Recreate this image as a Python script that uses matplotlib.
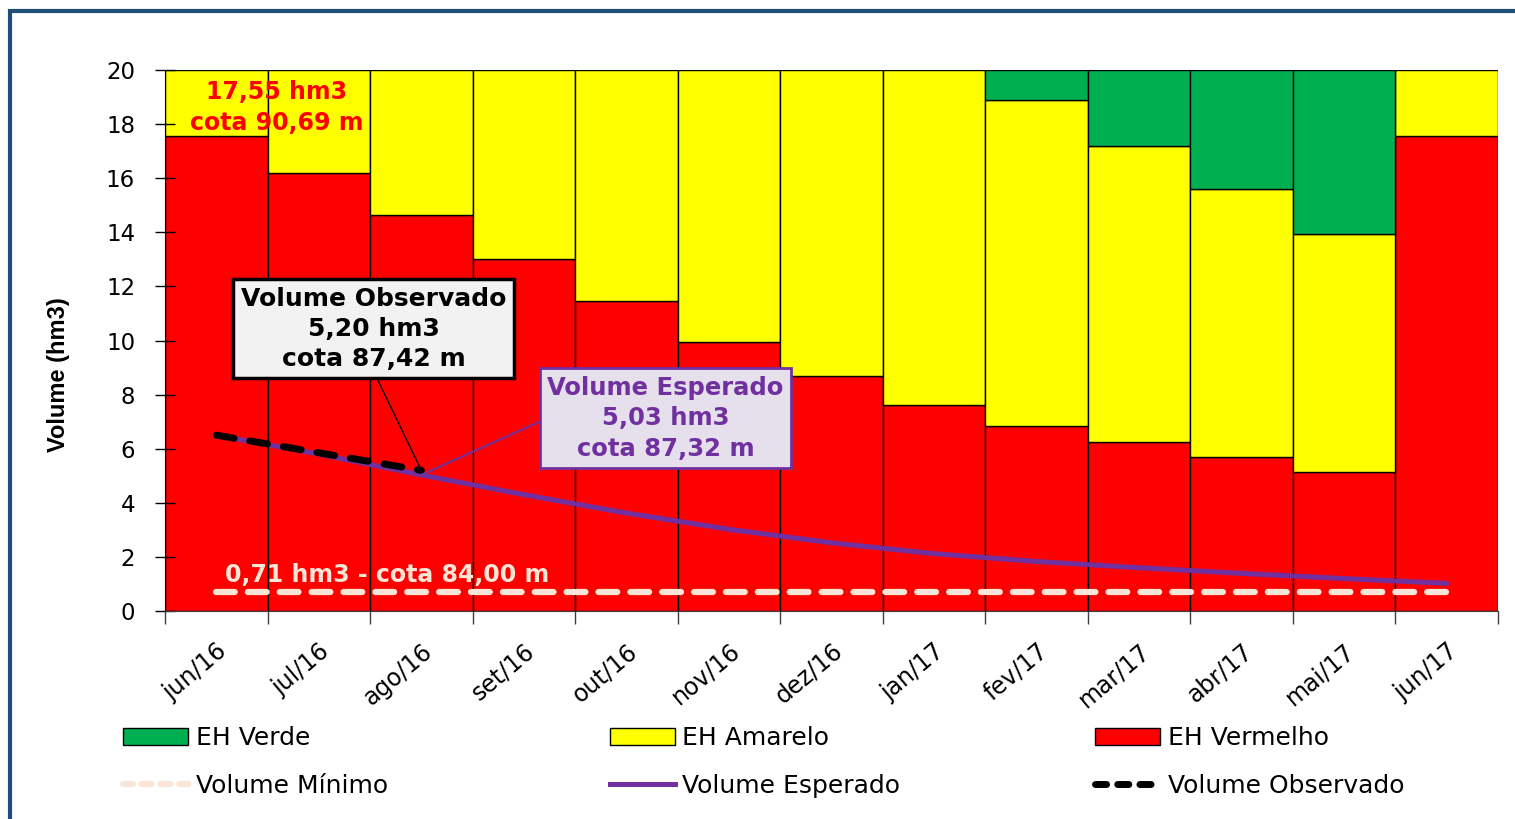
import numpy as np
import matplotlib
matplotlib.use("Agg")
import matplotlib.pyplot as plt
from matplotlib.patches import Patch, Rectangle
from matplotlib.lines import Line2D
from matplotlib.transforms import ScaledTranslation

# dados
meses = ['jun/16', 'jul/16', 'ago/16', 'set/16', 'out/16', 'nov/16', 'dez/16',
         'jan/17', 'fev/17', 'mar/17', 'abr/17', 'mai/17', 'jun/17']
vermelho = [17.55, 16.20, 14.65, 13.00, 11.45, 9.95, 8.70, 7.60, 6.85, 6.25, 5.70, 5.15, 17.55]
amarelo_topo = [20, 20, 20, 20, 20, 20, 20, 20, 18.90, 17.20, 15.60, 13.95, 20]
verde_topo = [20, 20, 20, 20, 20, 20, 20, 20, 20, 20, 20, 20, 20]
esperado = [6.50, 5.80, 5.03, 4.30, 3.62, 3.02, 2.52, 2.12, 1.83, 1.60, 1.39, 1.20, 1.02]
observado = [6.50, 5.85, 5.20]
minimo = [0.71] * 13

C_VERDE = '#00B050'
C_AMARELO = '#FFFF00'
C_VERMELHO = '#FF0000'
C_ROXO = '#7030A0'
C_CREME = '#FBE5D6'

fig = plt.figure(figsize=(15.15, 8.19), dpi=100)
ax = fig.add_axes([165 / 1515, 1 - 611 / 819, 1333 / 1515, 541 / 819])

x = np.arange(len(meses))
verm = np.array(vermelho)
amar = np.array(amarelo_topo) - verm
verd = np.array(verde_topo) - np.array(amarelo_topo)

ax.bar(x, verm, width=1.0, color=C_VERMELHO, edgecolor='black', linewidth=1)
ax.bar(x, amar, bottom=verm, width=1.0, color=C_AMARELO, edgecolor='black', linewidth=1)
tem_verde = verd > 0
ax.bar(x[tem_verde], verd[tem_verde], bottom=np.array(amarelo_topo)[tem_verde], width=1.0,
       color=C_VERDE, edgecolor='black', linewidth=1)

# linhas
ax.plot(x, minimo, color=C_CREME, lw=4.5, ls=(0, (3.0, 2.1)), dash_capstyle='round', zorder=3)
ax.plot(x, esperado, color=C_ROXO, lw=3.6, solid_capstyle='round', zorder=3)
ax.plot(x[:len(observado)], observado, color='black', lw=5, ls=(0, (2.6, 2.3)),
        dash_capstyle='round', zorder=4)

ax.set_xlim(-0.5, len(meses) - 0.5)
ax.set_ylim(0, 20)
ax.set_yticks(range(0, 21, 2))
ax.tick_params(axis='y', direction='inout', length=15, width=1, labelsize=16.5, pad=14)

ax.set_xticks(np.arange(len(meses) + 1) - 0.5)
ax.set_xticklabels([])
ax.tick_params(axis='x', which='major', direction='out', length=9, width=1, color='#404040')
ax.set_xticks(x, minor=True)
ax.set_xticklabels(meses, minor=True, rotation=40, ha='right', va='top',
                   rotation_mode='anchor', fontsize=17)
ax.tick_params(axis='x', which='minor', length=0, pad=20)
for lab in ax.get_xticklabels(minor=True):
    lab.set_transform(lab.get_transform() + ScaledTranslation(0.0, 0, fig.dpi_scale_trans))

for s in ['top', 'right']:
    ax.spines[s].set_visible(False)
ax.spines['bottom'].set_color('#404040')

ax.set_ylabel('Volume (hm3)', family=['Liberation Sans', 'DejaVu Sans'],
              fontsize=17, fontweight='bold')
ax.yaxis.set_label_coords(-0.0713, 0.436)

# textos
ax.text(0.592, 18.61, '17,55 hm3\ncota 90,69 m', color='red', fontsize=17, fontweight='bold',
        ha='center', va='center', linespacing=1.36, zorder=5)
ax.text(0.085, 1.07, '0,71 hm3 - cota 84,00 m', color=C_CREME, fontsize=17, fontweight='bold',
        ha='left', va='baseline', zorder=5)

ax.annotate('Volume Observado\n5,20 hm3\ncota 87,42 m', xy=(2, 5.2), xytext=(1.533, 10.43),
            ha='center', va='center', fontsize=18, fontweight='bold', color='black',
            linespacing=1.32, zorder=6,
            bbox=dict(boxstyle='square,pad=0.3', fc='#F2F2F2', ec='black', lw=2.5),
            arrowprops=dict(arrowstyle='-', color='black', lw=1, relpos=(0.5, 0),
                            shrinkA=0, shrinkB=0))
ax.annotate('Volume Esperado\n5,03 hm3\ncota 87,32 m', xy=(2, 5.03), xytext=(4.381, 7.13),
            ha='center', va='center', fontsize=17.5, fontweight='bold', color=C_ROXO,
            linespacing=1.34, zorder=6,
            bbox=dict(boxstyle='square,pad=0.3', fc='#E6E0EC', ec=C_ROXO, lw=2),
            arrowprops=dict(arrowstyle='-', color=C_ROXO, lw=1.5, relpos=(0, 0.5),
                            shrinkA=0, shrinkB=0))

# legendas (tres colunas)
colunas = [
    ([Patch(fc=C_VERDE, ec='black'),
      Line2D([], [], color=C_CREME, lw=4.5, ls=(0, (1.6, 1.4)), dash_capstyle='round')],
     ['EH Verde', 'Volume Mínimo'], 123),
    ([Patch(fc=C_AMARELO, ec='black'),
      Line2D([], [], color=C_ROXO, lw=3.6)],
     ['EH Amarelo', 'Volume Esperado'], 610),
    ([Patch(fc=C_VERMELHO, ec='black'),
      Line2D([], [], color='black', lw=5, ls=(0, (1.6, 1.6)), dash_capstyle='round')],
     ['EH Vermelho', 'Volume Observado'], 1095),
]
for hs, ls, px in colunas:
    fig.legend(hs, ls, loc='upper left', bbox_to_anchor=(px / 1515, 1 - 726 / 819),
               frameon=False, fontsize=18, handlelength=2.6, handleheight=0.65,
               handletextpad=0.3, labelspacing=0.95, borderpad=0, borderaxespad=0)

# moldura azul
fig.patches.append(Rectangle((9.5 / 1515, -0.1), 1.2, 1 - 11 / 819 + 0.1,
                             transform=fig.transFigure, fill=False, ec='#1F4E79', lw=3))

fig.savefig('out.png', dpi=100)
